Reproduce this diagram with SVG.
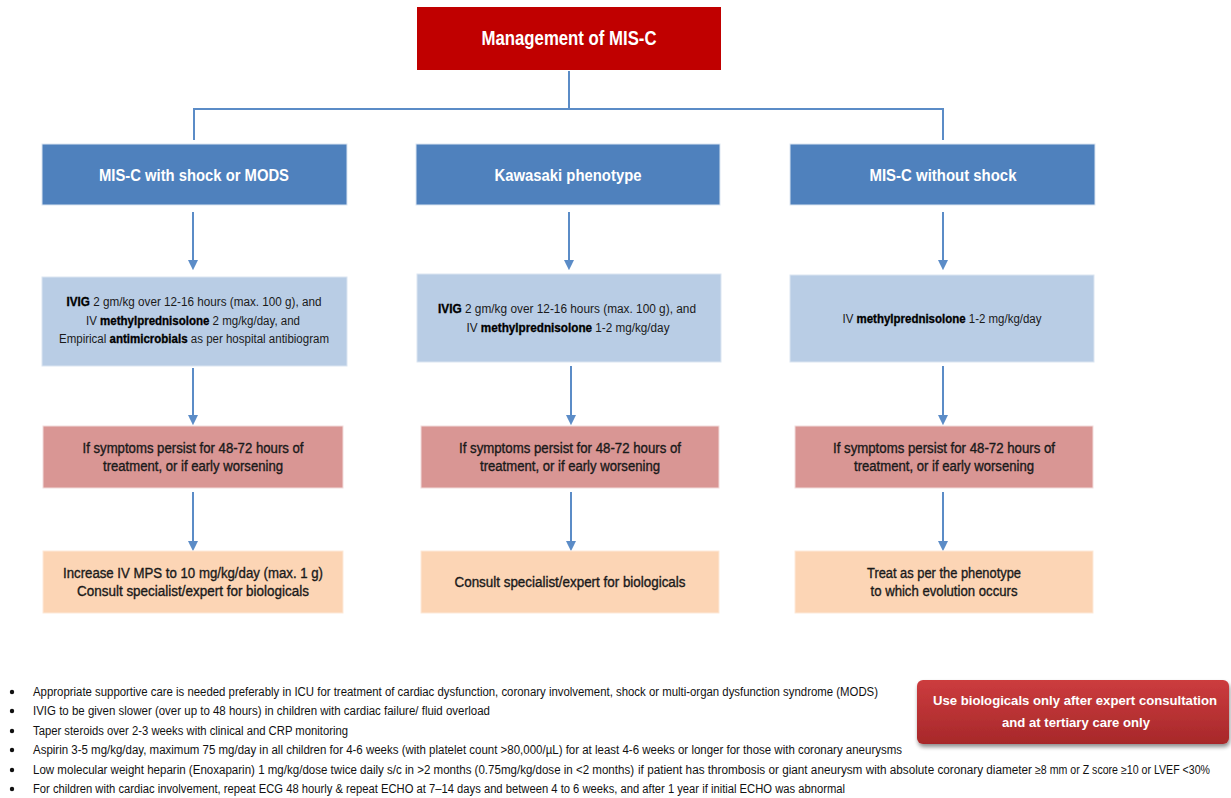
<svg xmlns="http://www.w3.org/2000/svg" width="1231" height="798" viewBox="0 0 1231 798">
<style>
.title{fill:#C00000;}
.hdr{fill:#4F81BD;stroke:#dbe5f1;stroke-width:1;}
.trt{fill:#B9CDE5;stroke:#dbe5f1;stroke-width:1;}
.per{fill:#D99694;stroke:#f2dcdb;stroke-width:1;}
.out{fill:#FCD5B5;stroke:#fde9d9;stroke-width:1;}
.tt{font-family:"Liberation Sans",Arial,sans-serif;font-weight:bold;fill:#fff;text-anchor:middle;}
.ht{font-family:"Liberation Sans",Arial,sans-serif;font-weight:bold;font-size:17px;fill:#fff;text-anchor:middle;}
.rt{font-family:"Liberation Sans",Arial,sans-serif;font-size:12px;fill:#1a1a1a;text-anchor:middle;}
.rt .b{font-weight:900;fill:#000;stroke:#000;stroke-width:0.3;}
.pt{font-family:"Liberation Sans",Arial,sans-serif;font-size:14px;fill:#1a1a1a;stroke:#1a1a1a;stroke-width:0.35;text-anchor:middle;}
.bt{font-family:"Liberation Sans",Arial,sans-serif;font-size:12px;fill:#111;}
.ct{font-family:"Liberation Sans",Arial,sans-serif;font-weight:bold;font-size:13.5px;fill:#fff;text-anchor:middle;}
.ln{fill:none;stroke:#5B8CC7;stroke-width:2;}
.ar{fill:none;stroke:#5B8CC7;stroke-width:2;marker-end:url(#ah);}
</style>
<defs>
<marker id="ah" markerWidth="10" markerHeight="10" refX="6" refY="5" orient="auto" markerUnits="userSpaceOnUse">
<path d="M0,0 L12,5 L0,10 Z" fill="#5B8CC7" transform="scale(0.85,1)"/>
</marker>
<linearGradient id="cg" x1="0" y1="0" x2="0" y2="1">
<stop offset="0" stop-color="#CC3C3E"/>
<stop offset="1" stop-color="#A7282A"/>
</linearGradient>
<filter id="sh" x="-10%" y="-20%" width="120%" height="150%">
<feGaussianBlur in="SourceAlpha" stdDeviation="2"/>
<feOffset dx="1" dy="3"/>
<feComponentTransfer><feFuncA type="linear" slope="0.45"/></feComponentTransfer>
<feMerge><feMergeNode/><feMergeNode in="SourceGraphic"/></feMerge>
</filter>
</defs>
<rect width="1231" height="798" fill="#fff"/>

<g id="connectors">
<path class="ln" d="M569,71 V109"/>
<path class="ln" d="M194,140 V109 H943 V140"/>
<path class="ar" d="M193,212 V266"/>
<path class="ar" d="M569,212 V266"/>
<path class="ar" d="M943,212 V266"/>
<path class="ar" d="M193,368 V421"/>
<path class="ar" d="M571,366 V421"/>
<path class="ar" d="M943,366 V421"/>
<path class="ar" d="M193,492 V547"/>
<path class="ar" d="M571,492 V547"/>
<path class="ar" d="M943,492 V547"/>
</g>

<g id="title">
<rect class="title" x="417" y="7" width="304" height="63"/>
<text class="tt" x="569" y="45" font-size="20" textLength="175" lengthAdjust="spacingAndGlyphs">Management of MIS-C</text>
</g>

<g id="hdr-shock">
<rect class="hdr" x="42" y="144" width="305" height="61"/>
<text class="ht" x="194" y="181" textLength="190" lengthAdjust="spacingAndGlyphs">MIS-C with shock or MODS</text>
</g>
<g id="hdr-kawasaki">
<rect class="hdr" x="416" y="144" width="304" height="61"/>
<text class="ht" x="568" y="181" textLength="147" lengthAdjust="spacingAndGlyphs">Kawasaki phenotype</text>
</g>
<g id="hdr-noshock">
<rect class="hdr" x="790" y="144" width="305" height="61"/>
<text class="ht" x="943" y="181" textLength="147" lengthAdjust="spacingAndGlyphs">MIS-C without shock</text>
</g>

<g id="trt-shock">
<rect class="trt" x="42" y="277" width="305" height="89"/>
<text class="rt" x="194" y="306" textLength="255" lengthAdjust="spacingAndGlyphs"><tspan class="b">IVIG</tspan> 2 gm/kg over 12-16 hours (max. 100 g), and</text>
<text class="rt" x="193" y="325" textLength="214" lengthAdjust="spacingAndGlyphs">IV <tspan class="b">methylprednisolone</tspan> 2 mg/kg/day, and</text>
<text class="rt" x="194" y="343" textLength="270" lengthAdjust="spacingAndGlyphs">Empirical <tspan class="b">antimicrobials</tspan> as per hospital antibiogram</text>
</g>
<g id="trt-kawasaki">
<rect class="trt" x="417" y="274" width="304" height="88"/>
<text class="rt" x="567" y="313" textLength="258" lengthAdjust="spacingAndGlyphs"><tspan class="b">IVIG</tspan> 2 gm/kg over 12-16 hours (max. 100 g), and</text>
<text class="rt" x="568" y="332" textLength="203" lengthAdjust="spacingAndGlyphs">IV <tspan class="b">methylprednisolone</tspan> 1-2 mg/kg/day</text>
</g>
<g id="trt-noshock">
<rect class="trt" x="790" y="275" width="304" height="87"/>
<text class="rt" x="942" y="323" textLength="199" lengthAdjust="spacingAndGlyphs">IV <tspan class="b">methylprednisolone</tspan> 1-2 mg/kg/day</text>
</g>

<g id="persist-shock">
<rect class="per" x="43" y="426" width="300" height="62"/>
<text class="pt" x="193" y="453" textLength="221" lengthAdjust="spacingAndGlyphs">If symptoms persist for 48-72 hours of</text>
<text class="pt" x="193" y="471" textLength="180" lengthAdjust="spacingAndGlyphs">treatment, or if early worsening</text>
</g>
<g id="persist-kawasaki">
<rect class="per" x="421" y="426" width="298" height="62"/>
<text class="pt" x="570" y="453" textLength="222" lengthAdjust="spacingAndGlyphs">If symptoms persist for 48-72 hours of</text>
<text class="pt" x="570" y="471" textLength="180" lengthAdjust="spacingAndGlyphs">treatment, or if early worsening</text>
</g>
<g id="persist-noshock">
<rect class="per" x="795" y="426" width="298" height="62"/>
<text class="pt" x="944" y="453" textLength="222" lengthAdjust="spacingAndGlyphs">If symptoms persist for 48-72 hours of</text>
<text class="pt" x="944" y="471" textLength="180" lengthAdjust="spacingAndGlyphs">treatment, or if early worsening</text>
</g>

<g id="out-shock">
<rect class="out" x="43" y="551" width="300" height="62"/>
<text class="pt" x="193" y="578" textLength="260" lengthAdjust="spacingAndGlyphs">Increase IV MPS to 10 mg/kg/day (max. 1 g)</text>
<text class="pt" x="193" y="596" textLength="232" lengthAdjust="spacingAndGlyphs">Consult specialist/expert for biologicals</text>
</g>
<g id="out-kawasaki">
<rect class="out" x="421" y="551" width="298" height="62"/>
<text class="pt" x="570" y="587" textLength="231" lengthAdjust="spacingAndGlyphs">Consult specialist/expert for biologicals</text>
</g>
<g id="out-noshock">
<rect class="out" x="795" y="551" width="298" height="62"/>
<text class="pt" x="944" y="578" textLength="154" lengthAdjust="spacingAndGlyphs">Treat as per the phenotype</text>
<text class="pt" x="944" y="596" textLength="147" lengthAdjust="spacingAndGlyphs">to which evolution occurs</text>
</g>

<g id="notes">
<circle cx="12" cy="692" r="2.2" fill="#111"/>
<circle cx="12" cy="711" r="2.2" fill="#111"/>
<circle cx="12" cy="731" r="2.2" fill="#111"/>
<circle cx="12" cy="750" r="2.2" fill="#111"/>
<circle cx="12" cy="770" r="2.2" fill="#111"/>
<circle cx="12" cy="789" r="2.2" fill="#111"/>
<text class="bt" x="33" y="696" textLength="845" lengthAdjust="spacingAndGlyphs">Appropriate supportive care is needed preferably in ICU for treatment of cardiac dysfunction, coronary involvement, shock or multi-organ dysfunction syndrome (MODS)</text>
<text class="bt" x="33" y="715" textLength="457" lengthAdjust="spacingAndGlyphs">IVIG to be given slower (over up to 48 hours) in children with cardiac failure/ fluid overload</text>
<text class="bt" x="33" y="735" textLength="315" lengthAdjust="spacingAndGlyphs">Taper steroids over 2-3 weeks with clinical and CRP monitoring</text>
<text class="bt" x="33" y="754" textLength="869" lengthAdjust="spacingAndGlyphs">Aspirin 3-5 mg/kg/day, maximum 75 mg/day in all children for 4-6 weeks (with platelet count &gt;80,000/µL) for at least 4-6 weeks or longer for those with coronary aneurysms</text>
<text class="bt" x="33" y="774" font-size="11" textLength="601" lengthAdjust="spacingAndGlyphs">Low molecular weight heparin (Enoxaparin) 1 mg/kg/dose twice daily s/c in &gt;2 months (0.75mg/kg/dose in &lt;2 months)</text>
<text class="bt" x="638" y="774" font-size="11" textLength="394" lengthAdjust="spacingAndGlyphs">if patient has thrombosis or giant aneurysm with absolute coronary diameter</text>
<text class="bt" x="1035" y="774" font-size="11" textLength="175" lengthAdjust="spacingAndGlyphs">≥8 mm or Z score ≥10 or LVEF &lt;30%</text>
<text class="bt" x="33" y="793" textLength="812" lengthAdjust="spacingAndGlyphs">For children with cardiac involvement, repeat ECG 48 hourly &amp; repeat ECHO at 7–14 days and between 4 to 6 weeks, and after 1 year if initial ECHO was abnormal</text>
</g>

<g id="callout">
<rect x="917" y="680" width="312" height="64" rx="6" fill="url(#cg)" filter="url(#sh)"/>
<text class="ct" x="1075" y="705" textLength="284" lengthAdjust="spacingAndGlyphs">Use biologicals only after expert consultation</text>
<text class="ct" x="1076" y="727" textLength="148" lengthAdjust="spacingAndGlyphs">and at tertiary care only</text>
</g>
</svg>
